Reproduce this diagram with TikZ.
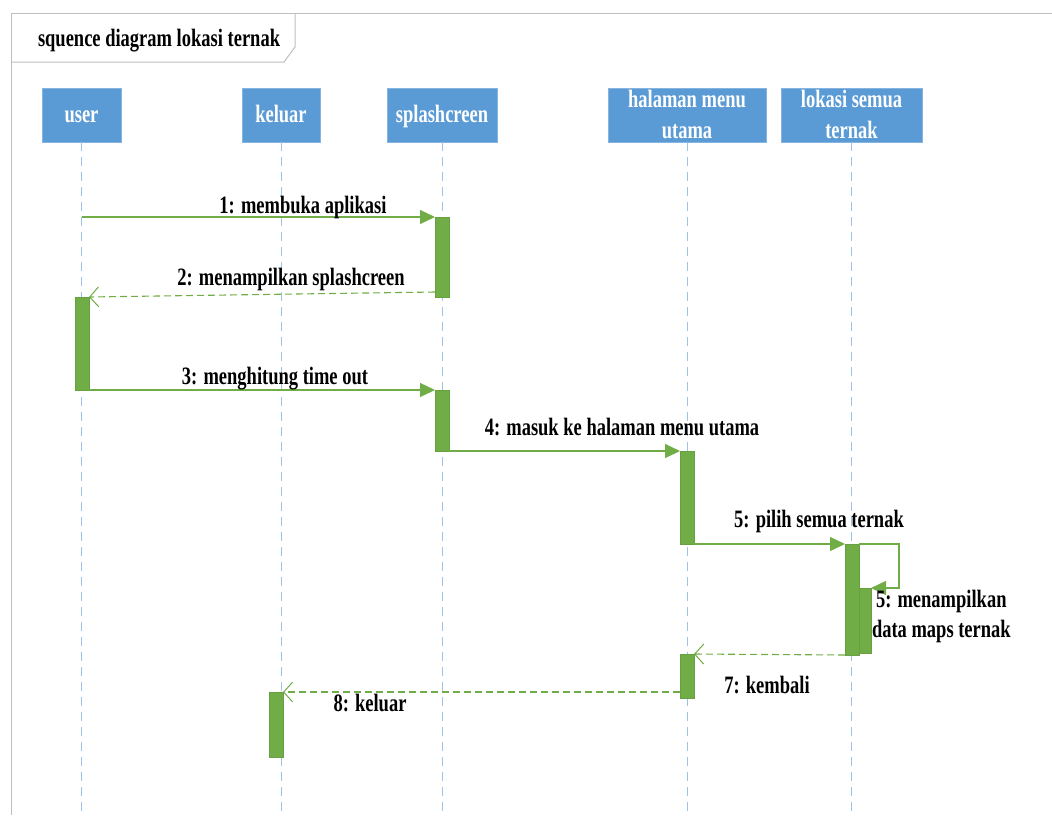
\documentclass[tikz,border=0pt]{standalone}
\usepackage{fontspec}
\setmainfont{Liberation Serif}[FakeStretch=0.74]
\usetikzlibrary{arrows.meta,calc}
\definecolor{headblue}{HTML}{5B9BD5}
\definecolor{lifeblue}{HTML}{9DC3E6}
\definecolor{actgreen}{HTML}{70AD47}
\definecolor{framegray}{HTML}{BFBFBF}

\begin{document}
\begin{tikzpicture}[x=1pt,y=-1pt,
  every node/.style={font=\fontsize{25}{30}\selectfont\bfseries, inner sep=0pt, outer sep=0pt},
  head/.style={fill=headblue, draw=headblue!75!white, line width=0.8pt, text=white, align=center,
               anchor=north west, minimum height=54pt},
  onehead/.style={head, text height=18pt, text depth=4pt},
  headline/.style={anchor=base, text=white},
  lifeline/.style={draw=lifeblue, line width=1pt, dash pattern=on 9pt off 6pt},
  act/.style={fill=actgreen, draw=actgreen!92!black, line width=0.5pt, anchor=north west, minimum width=14pt},
  call/.style={draw=actgreen, line width=1.3pt, -{Triangle[length=15pt,width=14pt]}},
  reply/.style={draw=actgreen, line width=1.1pt, dash pattern=on 7pt off 4pt,
                -{Straight Barb[length=9pt,width=20pt,line width=1pt]}},
  lbl/.style={anchor=base, text=black},
  frameline/.style={draw=framegray, line width=1pt},
]
\useasboundingbox (0,0) rectangle (1052,815);

% frame with title tab
\draw[frameline] (1052,13) -- (11,13) -- (11,815);
\draw[frameline] (11,62) -- (284,62) -- (295,47) -- (295,13);
\node[anchor=base west] (title) at (38,46) {squence diagram lokasi ternak};

% lifeline heads
\node[onehead, minimum width=79pt]  (hUser)   at (42,88)  {user};
\node[onehead, minimum width=78pt]  (hKel)    at (242,88) {keluar};
\node[onehead, minimum width=110pt] (hSplash) at (387,88) {splashcreen};
\node[head, minimum width=158pt] (hMenu) at (608,88) {};
\node[headline] (tMenu)  at (hMenu.north |- 0,107) {halaman menu};
\node[headline] (tMenu2) at (hMenu.north |- 0,138) {utama};
\node[head, minimum width=141pt] (hLok) at (781,88) {};
\node[headline] (tLok)  at (hLok.north |- 0,107) {lokasi semua};
\node[headline] (tLok2) at (hLok.north |- 0,138) {ternak};

% lifelines
\foreach \h in {hUser,hKel,hSplash,hMenu,hLok}
  \draw[lifeline] (\h.south) -- (\h.south |- 0,815);

% activation bars
\node[act, minimum height=80pt] (a1) at (435,217) {};
\node[act, minimum height=93pt] (a2) at (75,297) {};
\node[act, minimum height=61pt] (a3) at (435,390) {};
\node[act, minimum height=93pt] (a4) at (680,451) {};
\node[act, minimum height=111pt] (a5) at (845,544) {};
\node[act, minimum height=65pt, minimum width=12pt] (a6) at (859,588) {};
\node[act, minimum height=44pt] (a7) at (680,654) {};
\node[act, minimum height=65pt] (a8) at (269,692) {};

% messages
\draw[call] (hUser.south |- a1.north west) -- (a1.north west);
\node[lbl] (l1) at (303,213) {1: membuka aplikasi};

\draw[reply] ($(a1.south west)+(0,-5)$) -- (a2.north east);
\node[lbl] (l2) at (291,285) {2: menampilkan splashcreen};

\draw[call] (a2.south east) -- (a3.north west);
\node[lbl] (l3) at (275,384) {3: menghitung time out};

\draw[call] (a3.south east) -- (a4.north west);
\node[lbl] (l4) at (622,435) {4: masuk ke halaman menu utama};

\draw[call] (a4.south east) -- (a5.north west);
\node[lbl] (l5) at (819,527) {5: pilih semua ternak};

\draw[call] (a5.north east) -- ++(40,0) |- (a6.north east);
\node[lbl, anchor=base west] (l6a) at (876,607) {5: menampilkan};
\node[lbl, anchor=base west] (l6b) at (872,637) {data maps ternak};

\draw[reply] (a5.south west) -- (a7.north east);
\node[lbl] (l7) at (767,693) {7: kembali};

\draw[reply] (a7.west |- a8.north) -- (a8.north east);
\node[lbl] (l8) at (370,711) {8: keluar};
\end{tikzpicture}
\end{document}
